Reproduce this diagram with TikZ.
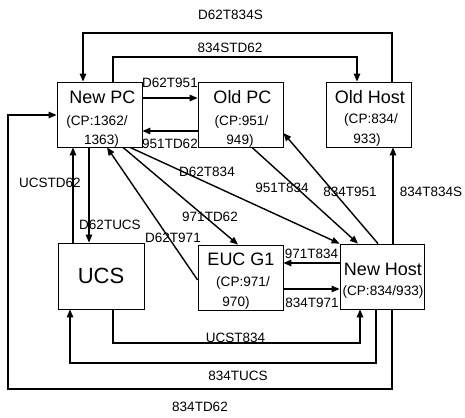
\documentclass[tikz,border=0pt]{standalone}
\usepackage{fontspec}
\setmainfont{Liberation Sans}
\usetikzlibrary{arrows.meta}
\begin{document}
\begin{tikzpicture}[x=1pt,y=-1pt,
  box/.style={draw,line width=0.8pt,inner sep=0pt,minimum width=85pt,minimum height=65pt},
  arr/.style={line width=1.4pt,-{Triangle[length=8pt,width=6.5pt]}},
  lbl/.style={font=\fontsize{13.5}{16}\selectfont,inner sep=0pt},
  ttl/.style={font=\fontsize{18}{21}\selectfont,inner sep=0pt,anchor=base},
  sub/.style={font=\fontsize{13.6}{16}\selectfont,inner sep=0pt,anchor=base}]
\useasboundingbox (0,0) rectangle (465,417);
% boxes
\node[box] (newpc) at (99.5,114.5) {};
\node[box] (oldpc) at (240.5,114.5) {};
\node[box] (oldhost) at (368.5,114.5) {};
\node[box,minimum width=86pt,minimum height=66pt,font=\fontsize{22}{26}\selectfont] (ucs) at (101,276) {UCS};
\node[box] (euc) at (240.5,277.5) {};
\node[box,minimum width=84pt] (newhost) at (382,276.5) {};
% box texts
\node[ttl] (newpct) at (102.5,103) {New PC};
\node[sub] (newpc1) at (97,125) {(CP:1362/};
\node[sub] (newpc2) at (101.5,144) {1363)};
\node[ttl] (oldpct) at (242.5,103) {Old PC};
\node[sub] (oldpc1) at (241.5,125) {(CP:951/};
\node[sub] (oldpc2) at (240,144) {949)};
\node[ttl] (oldhostt) at (370,103) {Old Host};
\node[sub] (oldhost1) at (371,124) {(CP:834/};
\node[sub] (oldhost2) at (367,143) {933)};
\node[ttl] (euct) at (241,265) {EUC G1};
\node[sub] (euc1) at (243,286) {(CP:971/};
\node[sub] (euc2) at (236,306) {970)};
\node[ttl] (newhostt) at (383,275) {New Host};
\node[sub] (newhost1) at (383,295) {(CP:834/933)};
% connectors
\draw[arr] (oldhost.north -| 392,0) |- (83,33) -- (newpc.north -| 83,0);
\draw[arr] (newpc.north -| 113,0) |- (357,57) -- (oldhost.north -| 357,0);
\draw[arr] (newpc.east |- 0,98) -- (oldpc.west |- 0,98);
\draw[arr] (oldpc.west |- 0,131) -- (newpc.east |- 0,131);
\draw[arr] (newhost.south -| 392,0) -- (392,389) -| (8,115) -- (newpc.west |- 0,115);
\draw[arr] (ucs.north -| 73,0) -- (newpc.south -| 73,0);
\draw[arr] (newpc.south -| 89,0) -- (ucs.north -| 89,0);
\draw[arr] (newpc.south -| 130,0) -- (newhost.north west);
\draw[arr] (newpc.south -| 123,0) -- (euc.north -| 238,0);
\draw[arr] (euc.west |- 0,280) -- (newpc.south -| 107,0);
\draw[arr] (oldpc.south -| 252,0) -- (newhost.north -| 358,0);
\draw[arr] (newhost.north -| 378,0) -- (oldpc.east |- 0,133);
\draw[arr] (newhost.north -| 393,0) -- (oldhost.south -| 393,0);
\draw[arr] (newhost.west |- 0,263) -- (euc.east |- 0,263);
\draw[arr] (euc.east |- 0,289) -- (newhost.west |- 0,289);
\draw[arr] (ucs.south -| 113,0) |- (360,343) -- (newhost.south -| 360,0);
\draw[arr] (newhost.south -| 376,0) |- (70,363) -- (ucs.south -| 70,0);
% labels
\node[lbl] (l1) at (230.5,15) {D62T834S};
\node[lbl] (l2) at (230,48) {834STD62};
\node[lbl] (l3) at (170,83) {D62T951};
\node[lbl] (l4) at (170,144) {951TD62};
\node[lbl] (l5) at (200,407) {834TD62};
\node[lbl] (l6) at (50,183) {UCSTD62};
\node[lbl] (l7) at (110,225) {D62TUCS};
\node[lbl] (l8) at (207,172) {D62T834};
\node[lbl] (l9) at (210,217) {971TD62};
\node[lbl] (l10) at (173,238) {D62T971};
\node[lbl] (l11) at (282,188) {951T834};
\node[lbl] (l12) at (350,192) {834T951};
\node[lbl] (l13) at (431,192) {834T834S};
\node[lbl] (l14) at (311.5,254) {971T834};
\node[lbl] (l15) at (312,303) {834T971};
\node[lbl] (l16) at (235.5,338) {UCST834};
\node[lbl] (l17) at (238,376) {834TUCS};
\end{tikzpicture}
\end{document}
